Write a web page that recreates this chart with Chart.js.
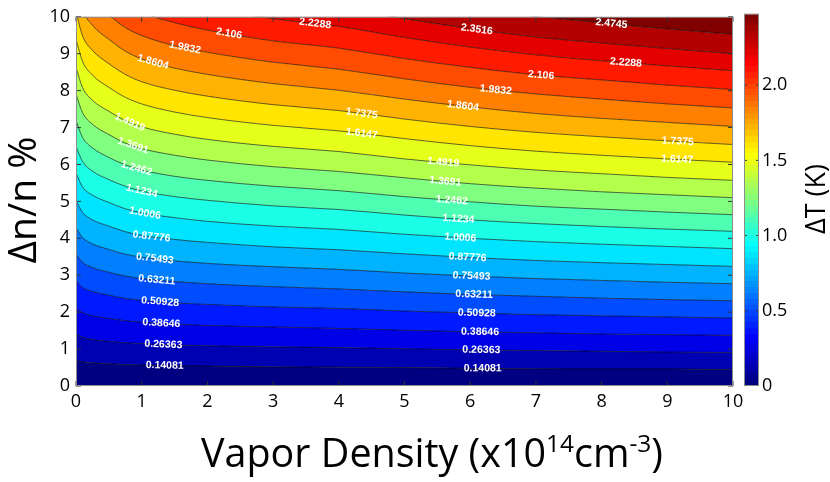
<!DOCTYPE html>
<html>
<head>
<meta charset="utf-8">
<script src="https://cdn.jsdelivr.net/npm/chart.js@4.4.1/dist/chart.umd.min.js"></script>
<style>
  html, body { margin: 0; padding: 0; background: #fff; }
  #wrap { position: relative; width: 830px; height: 482px; }
  #main { position: absolute; left: 0; top: 0; }
  #cbar { position: absolute; left: 730px; top: 0; }
</style>
</head>
<body>
<div id="wrap">
  <canvas id="main" width="830" height="482"></canvas>
  <canvas id="cbar" width="100" height="482"></canvas>
</div>
<script>
const densityX = [0, 0.1, 0.25, 0.5, 0.75, 1, 1.5, 2, 3, 4, 5, 6, 7, 8, 9, 10];

// contour levels, delta T in K
const levels = ['0.14081', '0.26363', '0.38646', '0.50928', '0.63211', '0.75493', '0.87776',
  '1.0006', '1.1234', '1.2462', '1.3691', '1.4919', '1.6147', '1.7375', '1.8604', '1.9832',
  '2.106', '2.2288', '2.3516', '2.4745'];

// dn/n % of each contour line at densityX
const line01 = [0.70, 0.65, 0.63, 0.60, 0.58, 0.57, 0.55, 0.54, 0.52, 0.51, 0.50, 0.48, 0.47, 0.46, 0.46, 0.45];
const line02 = [1.41, 1.32, 1.26, 1.21, 1.17, 1.15, 1.11, 1.09, 1.06, 1.04, 1.01, 0.98, 0.96, 0.94, 0.92, 0.91];
const line03 = [2.12, 1.99, 1.90, 1.83, 1.77, 1.73, 1.68, 1.64, 1.60, 1.56, 1.51, 1.47, 1.44, 1.41, 1.39, 1.37];
const line04 = [2.85, 2.67, 2.56, 2.46, 2.37, 2.32, 2.25, 2.21, 2.14, 2.10, 2.03, 1.98, 1.93, 1.90, 1.87, 1.84];
const line05 = [3.58, 3.35, 3.21, 3.08, 2.98, 2.91, 2.83, 2.77, 2.69, 2.63, 2.55, 2.48, 2.43, 2.38, 2.34, 2.31];
const line06 = [4.29, 4.02, 3.85, 3.70, 3.57, 3.49, 3.39, 3.32, 3.23, 3.16, 3.06, 2.98, 2.91, 2.86, 2.81, 2.77];
const line07 = [5.02, 4.70, 4.50, 4.33, 4.18, 4.08, 3.97, 3.89, 3.77, 3.69, 3.58, 3.48, 3.40, 3.34, 3.29, 3.24];
const line08 = [5.77, 5.39, 5.17, 4.97, 4.80, 4.69, 4.56, 4.46, 4.33, 4.24, 4.11, 4.00, 3.91, 3.84, 3.78, 3.72];
const line09 = [6.49, 6.08, 5.82, 5.59, 5.41, 5.28, 5.13, 5.03, 4.88, 4.78, 4.63, 4.50, 4.40, 4.32, 4.25, 4.19];
const line10 = [7.19, 6.73, 6.45, 6.19, 5.99, 5.85, 5.68, 5.57, 5.41, 5.29, 5.13, 4.99, 4.87, 4.79, 4.71, 4.64];
const line11 = [7.91, 7.40, 7.09, 6.81, 6.58, 6.43, 6.25, 6.12, 5.94, 5.81, 5.64, 5.48, 5.36, 5.26, 5.18, 5.10];
const line12 = [8.63, 8.08, 7.74, 7.44, 7.19, 7.02, 6.82, 6.68, 6.49, 6.35, 6.15, 5.99, 5.85, 5.75, 5.65, 5.57];
const line13 = [9.39, 8.79, 8.42, 8.09, 7.82, 7.64, 7.42, 7.27, 7.06, 6.91, 6.70, 6.51, 6.36, 6.25, 6.15, 6.06];
const line14 = [10.14, 9.48, 9.09, 8.73, 8.44, 8.24, 8.01, 7.85, 7.62, 7.46, 7.23, 7.03, 6.87, 6.75, 6.64, 6.54];
const line15 = [10.90, 10.19, 9.77, 9.39, 9.07, 8.86, 8.61, 8.44, 8.19, 8.01, 7.77, 7.56, 7.38, 7.25, 7.14, 7.03];
const line16 = [11.67, 10.92, 10.47, 10.05, 9.71, 9.49, 9.22, 9.04, 8.77, 8.58, 8.32, 8.09, 7.91, 7.77, 7.64, 7.53];
const line17 = [12.45, 11.64, 11.16, 10.72, 10.36, 10.12, 9.84, 9.64, 9.35, 9.15, 8.87, 8.63, 8.43, 8.29, 8.15, 8.03];
const line18 = [13.24, 12.38, 11.87, 11.40, 11.02, 10.76, 10.46, 10.25, 9.95, 9.74, 9.44, 9.18, 8.97, 8.81, 8.67, 8.54];
const line19 = [13.95, 13.05, 12.51, 12.02, 11.61, 11.34, 11.03, 10.80, 10.49, 10.26, 9.95, 9.68, 9.45, 9.29, 9.14, 9.00];
const line20 = [14.77, 13.82, 13.25, 12.72, 12.29, 12.01, 11.67, 11.44, 11.10, 10.86, 10.53, 10.24, 10.01, 9.84, 9.67, 9.53];
const contourY = [line01, line02, line03, line04, line05, line06, line07, line08, line09, line10,
  line11, line12, line13, line14, line15, line16, line17, line18, line19, line20];

// inline labels: which level, and at which density
const labelLevel = [0, 1, 2, 3, 4, 5, 6, 7, 8, 9, 10, 11, 14, 15, 16, 17, 18, 19,
  0, 1, 2, 3, 4, 5, 6, 7, 8, 9, 10, 11, 12, 13, 14, 15, 16, 17,
  12, 13];
const labelX = [1.35, 1.33, 1.30, 1.28, 1.23, 1.20, 1.15, 1.05, 1.00, 0.92, 0.87, 0.82, 1.17, 1.66, 2.33, 3.64, 6.10, 8.15,
  6.19, 6.17, 6.15, 6.10, 6.06, 6.02, 5.96, 5.85, 5.82, 5.72, 5.62, 5.59, 4.35, 4.35, 5.89, 6.39, 7.08, 8.37,
  9.15, 9.16];

const xTicks = [0, 1, 2, 3, 4, 5, 6, 7, 8, 9, 10];
const yTicks = [0, 1, 2, 3, 4, 5, 6, 7, 8, 9, 10];
const cbarRange = [0, 2.4745];
const cbarTicks = [0, 0.5, 1.0, 1.5, 2.0];

const FONT = '"Open Sans", "DejaVu Sans", sans-serif';

// MATLAB-style jet colormap
function jet(t) {
  const c = v => Math.round(255 * Math.max(0, Math.min(1, v)));
  return `rgb(${c(1.5 - Math.abs(4 * t - 3))},${c(1.5 - Math.abs(4 * t - 2))},${c(1.5 - Math.abs(4 * t - 1))})`;
}

function lineY(k, x) {
  const ys = contourY[k];
  for (let i = 1; i < densityX.length; i++) {
    if (x <= densityX[i]) {
      const f = (x - densityX[i - 1]) / (densityX[i] - densityX[i - 1]);
      return ys[i - 1] + f * (ys[i] - ys[i - 1]);
    }
  }
  return ys[ys.length - 1];
}

// font size that makes a text a given length
function fitFont(ctx, text, len) {
  ctx.font = `100px ${FONT}`;
  const size = 100 * len / ctx.measureText(text).width;
  return `${size.toFixed(1)}px ${FONT}`;
}

function drawInwardTicks(ctx, a, xs, ys, len) {
  ctx.strokeStyle = '#333';
  ctx.lineWidth = 1;
  ctx.beginPath();
  xs.forEach(px => {
    ctx.moveTo(px, a.bottom); ctx.lineTo(px, a.bottom - len);
    ctx.moveTo(px, a.top); ctx.lineTo(px, a.top + len);
  });
  ys.forEach(py => {
    ctx.moveTo(a.left, py); ctx.lineTo(a.left + len, py);
    ctx.moveTo(a.right, py); ctx.lineTo(a.right - len, py);
  });
  ctx.stroke();
}

const contourDecor = {
  id: 'contourDecor',
  afterDatasetsDraw(chart) {
    const { ctx, chartArea: a, scales: { x, y } } = chart;
    ctx.save();
    ctx.beginPath();
    ctx.rect(a.left, a.top, a.right - a.left, a.bottom - a.top);
    ctx.clip();
    ctx.fillStyle = '#fff';
    ctx.font = `bold 10.5px "Liberation Sans", Arial, sans-serif`;
    ctx.textAlign = 'center';
    ctx.textBaseline = 'middle';
    labelLevel.forEach((k, i) => {
      const lx = labelX[i];
      const x1 = x.getPixelForValue(lx - 0.15), x2 = x.getPixelForValue(lx + 0.15);
      const y1 = y.getPixelForValue(lineY(k, lx - 0.15)), y2 = y.getPixelForValue(lineY(k, lx + 0.15));
      ctx.save();
      ctx.translate(x.getPixelForValue(lx), y.getPixelForValue(lineY(k, lx)));
      ctx.rotate(Math.atan2(y2 - y1, x2 - x1));
      ctx.fillText(levels[k], 0, 0);
      ctx.restore();
    });
    ctx.restore();

    ctx.save();
    drawInwardTicks(ctx, a, xTicks.map(v => x.getPixelForValue(v)), yTicks.map(v => y.getPixelForValue(v)), 5);
    ctx.strokeStyle = '#8c8c8c';
    ctx.lineWidth = 1;
    ctx.strokeRect(a.left + 0.5, a.top + 0.5, a.right - a.left - 1, a.bottom - a.top - 1);
    ctx.restore();
  },
  afterDraw(chart) {
    const { ctx } = chart;
    ctx.save();
    ctx.fillStyle = '#000';
    // y title
    ctx.save();
    ctx.translate(36, 200);
    ctx.rotate(-Math.PI / 2);
    ctx.font = fitFont(ctx, 'Δn/n %', 127);
    ctx.textAlign = 'center';
    ctx.textBaseline = 'alphabetic';
    ctx.fillText('Δn/n %', 0, 0);
    ctx.restore();

    // x title with superscripts
    const parts = [['Vapor Density (x10', 0], ['14', 1], ['cm', 0], ['-3', 1], [')', 0]];
    const measure = size => parts.reduce((w, [t, sup]) => {
      ctx.font = `${sup ? size * 0.62 : size}px ${FONT}`;
      return w + ctx.measureText(t).width;
    }, 0);
    const size = 100 * 462 / measure(100);
    let px = 432 - measure(size) / 2;
    ctx.textAlign = 'left';
    ctx.textBaseline = 'alphabetic';
    parts.forEach(([t, sup]) => {
      ctx.font = `${sup ? size * 0.62 : size}px ${FONT}`;
      ctx.fillText(t, px, sup ? 467 - size * 0.38 : 467);
      px += ctx.measureText(t).width;
    });
    ctx.restore();
  }
};

const datasets = contourY.map((ys, k) => ({
  data: densityX.map((x, i) => ({ x, y: ys[i] })),
  borderColor: 'rgba(0,0,0,0.85)',
  borderWidth: 0.7,
  pointRadius: 0,
  cubicInterpolationMode: 'monotone',
  fill: k === 0 ? 'start' : '-1',
  backgroundColor: jet(k / levels.length)
}));
// region above the highest level
datasets.push({
  data: densityX.map((x, i) => ({ x, y: line20[i] })),
  borderWidth: 0,
  borderColor: 'rgba(0,0,0,0)',
  pointRadius: 0,
  cubicInterpolationMode: 'monotone',
  fill: 'end',
  backgroundColor: jet(1)
});

const tickFont = { family: FONT, size: 18 };
const noGrid = { display: false, drawTicks: false };

new Chart(document.getElementById('main'), {
  type: 'line',
  data: { datasets },
  options: {
    responsive: false,
    animation: false,
    layout: { padding: { top: 10, right: 97, left: 0, bottom: 0 } },
    plugins: {
      legend: { display: false },
      tooltip: { enabled: false },
      filler: { drawTime: 'beforeDatasetsDraw' }
    },
    scales: {
      x: {
        type: 'linear', min: 0, max: 10,
        grid: noGrid, border: { display: false },
        afterBuildTicks: s => { s.ticks = xTicks.map(v => ({ value: v })); },
        afterFit: s => { s.height = 96; },
        ticks: { padding: 5, color: '#000', font: tickFont, maxRotation: 0, autoSkip: false }
      },
      y: {
        type: 'linear', min: 0, max: 10,
        grid: noGrid, border: { display: false },
        afterBuildTicks: s => { s.ticks = yTicks.map(v => ({ value: v })); },
        afterFit: s => { s.width = 76; },
        ticks: { padding: 6, color: '#000', font: tickFont, autoSkip: false }
      }
    }
  },
  plugins: [contourDecor]
});

// colour bar
function jetGradient(chart) {
  const a = chart.chartArea;
  if (!a) return jet(0);
  const g = chart.ctx.createLinearGradient(0, a.bottom, 0, a.top);
  const n = 64;
  for (let i = 0; i < n; i++) {
    const col = jet(i / (n - 1));
    g.addColorStop(i / n, col);
    g.addColorStop((i + 1) / n - 0.0001, col);
  }
  return g;
}

const cbarDecor = {
  id: 'cbarDecor',
  afterDatasetsDraw(chart) {
    const { ctx, chartArea: a, scales: { y } } = chart;
    ctx.save();
    drawInwardTicks(ctx, a, [], cbarTicks.filter(v => v > 0).map(v => y.getPixelForValue(v)), 3);
    ctx.strokeStyle = '#8c8c8c';
    ctx.lineWidth = 1;
    ctx.strokeRect(a.left + 0.5, a.top + 0.5, a.right - a.left - 1, a.bottom - a.top - 1);
    ctx.restore();
  },
  afterDraw(chart) {
    const { ctx } = chart;
    ctx.save();
    ctx.fillStyle = '#000';
    ctx.translate(95, 199);
    ctx.rotate(-Math.PI / 2);
    ctx.font = fitFont(ctx, 'ΔT (K)', 70);
    ctx.textAlign = 'center';
    ctx.textBaseline = 'alphabetic';
    ctx.fillText('ΔT (K)', 0, 0);
    ctx.restore();
  }
};

new Chart(document.getElementById('cbar'), {
  type: 'bar',
  data: {
    labels: [''],
    datasets: [{
      data: [cbarRange],
      backgroundColor: c => jetGradient(c.chart),
      borderWidth: 0,
      barPercentage: 1,
      categoryPercentage: 1
    }]
  },
  options: {
    responsive: false,
    animation: false,
    layout: { padding: { left: 14, top: 10, bottom: 96, right: 0 } },
    plugins: { legend: { display: false }, tooltip: { enabled: false } },
    scales: {
      x: { display: false },
      y: {
        position: 'right', min: cbarRange[0], max: cbarRange[1],
        grid: noGrid, border: { display: false },
        afterBuildTicks: s => { s.ticks = cbarTicks.map(v => ({ value: v })); },
        afterFit: s => { s.width = 71; },
        ticks: {
          padding: 3, color: '#000', font: tickFont,
          callback: v => v === 0 ? '0' : v.toFixed(1)
        }
      }
    }
  },
  plugins: [cbarDecor]
});
</script>
</body>
</html>
